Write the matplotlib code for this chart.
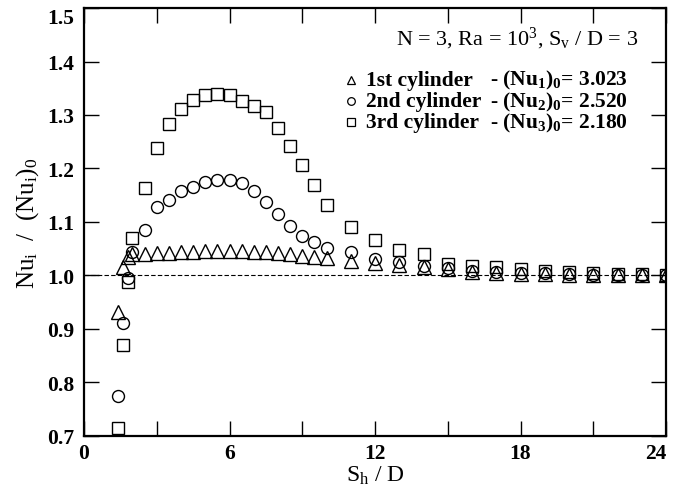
import matplotlib
matplotlib.use("Agg")
import matplotlib.pyplot as plt
from matplotlib.ticker import MultipleLocator, FixedLocator

plt.rcParams['font.family'] = ['Liberation Serif', 'DejaVu Serif']
plt.rcParams['mathtext.fontset'] = 'custom'
plt.rcParams['mathtext.rm'] = 'Liberation Serif'
plt.rcParams['mathtext.it'] = 'Liberation Serif:italic'
plt.rcParams['mathtext.bf'] = 'Liberation Serif:bold'

sh_d = [1.4, 1.6, 1.8, 2.0, 2.5, 3.0, 3.5, 4.0, 4.5, 5.0, 5.5, 6.0, 6.5, 7.0, 7.5,
        8.0, 8.5, 9.0, 9.5, 10, 11, 12, 13, 14, 15, 16, 17, 18, 19, 20, 21, 22, 23, 24]

nu1 = [0.931, 1.015, 1.034, 1.040, 1.040, 1.041, 1.042, 1.043, 1.044, 1.045, 1.045,
       1.045, 1.045, 1.044, 1.043, 1.041, 1.039, 1.037, 1.035, 1.032, 1.027, 1.023,
       1.019, 1.015, 1.011, 1.006, 1.004, 1.003, 1.002, 1.001, 1.000, 1.000, 1.000, 1.000]

nu2 = [0.774, 0.910, 0.995, 1.043, 1.084, 1.128, 1.141, 1.158, 1.165, 1.175, 1.178,
       1.178, 1.172, 1.158, 1.138, 1.115, 1.092, 1.074, 1.063, 1.051, 1.043, 1.031,
       1.024, 1.017, 1.013, 1.008, 1.006, 1.005, 1.004, 1.002, 1.001, 1.001, 1.000, 1.000]

nu3 = [0.714, 0.870, 0.988, 1.069, 1.163, 1.239, 1.283, 1.312, 1.328, 1.337, 1.339,
       1.337, 1.327, 1.316, 1.306, 1.275, 1.242, 1.207, 1.169, 1.131, 1.090, 1.066,
       1.048, 1.039, 1.022, 1.018, 1.015, 1.012, 1.008, 1.006, 1.004, 1.003, 1.002, 1.001]

names = ["1st cylinder", "2nd cylinder", "3rd cylinder"]
nu0_labels = [r"- (Nu$_\mathbf{1}$)$_\mathbf{0}$= 3.023",
              r"- (Nu$_\mathbf{2}$)$_\mathbf{0}$= 2.520",
              r"- (Nu$_\mathbf{3}$)$_\mathbf{0}$= 2.180"]
markers = ['^', 'o', 's']
header = r"N = 3, Ra = 10$^3$, S$_\mathrm{v}$ / D = 3"

x_ticks = [0, 6, 12, 18, 24]
y_ticks = [0.7, 0.8, 0.9, 1.0, 1.1, 1.2, 1.3, 1.4, 1.5]

fig = plt.figure(figsize=(6.8, 4.89), dpi=100)
ax = fig.add_axes([0.1235, 0.107, 0.856, 0.8745])

ax.axhline(1.0, color='black', lw=0.8, ls=(0, (4, 2)), zorder=1)

for yv, m in zip([nu1, nu2, nu3], markers):
    ms = 9.5 if m == '^' else 8.6
    ax.plot(sh_d, yv, ls='none', marker=m, ms=ms, mfc='none', mec='black',
            mew=1.0, zorder=3)

ax.set_xlim(0, 24)
ax.set_ylim(0.7, 1.5)
ax.xaxis.set_major_locator(FixedLocator(x_ticks))
ax.xaxis.set_minor_locator(MultipleLocator(3))
ax.yaxis.set_major_locator(FixedLocator(y_ticks))
ax.set_xticklabels([str(v) for v in x_ticks])
ax.set_yticklabels([f"{v:.1f}" for v in y_ticks])
ax.tick_params(which='both', direction='in', top=True, right=True, length=11, width=1.0,
               labelsize=15.5)
ax.tick_params(axis='x', pad=5)
ax.tick_params(axis='y', pad=7)
for lab in ax.get_xticklabels() + ax.get_yticklabels():
    lab.set_fontweight('bold')
ax.get_yticklabels()[-1].set_va('top')
ax.get_xticklabels()[-1].set_ha('right')
ax.get_xticklabels()[-1].set_x(24)
for sp in ax.spines.values():
    sp.set_linewidth(1.6)

ax.set_xlabel(r"S$_\mathrm{h}$ / D", fontsize=17, labelpad=1)
ax.set_ylabel(r"Nu$_\mathrm{i}$  /  (Nu$_\mathrm{i}$)$_0$", fontsize=18, labelpad=4)

ax.text(0.9515, 0.930, header, transform=ax.transAxes, ha='right', va='center',
        fontsize=16)

row_y = [0.832, 0.782, 0.733]
for yy, m, nm, nl in zip(row_y, markers, names, nu0_labels):
    ax.plot([0.4587], [yy], transform=ax.transAxes, ls='none', marker=m,
            ms=6.0 if m == '^' else 5.5, mfc='none', mec='black', mew=0.9,
            clip_on=False)
    ax.text(0.4837, yy, nm, transform=ax.transAxes, ha='left', va='center',
            fontsize=15.5, fontweight='bold')
    ax.text(0.6975, yy, nl, transform=ax.transAxes, ha='left', va='center',
            fontsize=15.5, fontweight='bold')

fig.savefig("out.png", dpi=100)
